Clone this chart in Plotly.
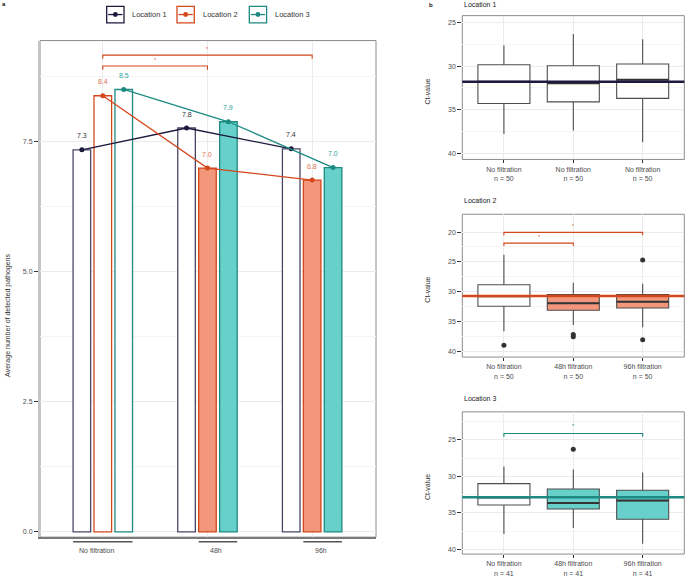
import plotly.graph_objects as go

W, H = 685, 577
FONT = "Liberation Sans, Arial, sans-serif"

# ---- data ----
locations = ["Location 1", "Location 2", "Location 3"]
periods = ["No filtration", "48h", "96h"]

# panel a: average number of detected pathogens
avg_loc1 = [7.34, 7.76, 7.36]
avg_loc2 = [8.38, 6.99, 6.76]
avg_loc3 = [8.50, 7.88, 7.00]

# treatment of each bar / box
treat_loc1 = ["No filtration", "No filtration", "No filtration"]
treat_loc2 = ["No filtration", "48h filtration", "96h filtration"]
treat_loc3 = ["No filtration", "48h filtration", "96h filtration"]
n_loc = [50, 50, 41]

# panel b: Ct-value box statistics
low_loc1 = [27.63, 26.30, 26.90]
q1_loc1 = [29.84, 29.95, 29.76]
med_loc1 = [31.80, 31.98, 31.56]
q3_loc1 = [34.30, 34.10, 33.70]
high_loc1 = [37.81, 37.40, 38.73]

low_loc2 = [23.80, 28.50, 28.70]
q1_loc2 = [28.84, 30.50, 30.50]
med_loc2 = [30.80, 31.96, 31.70]
q3_loc2 = [32.47, 33.14, 32.75]
high_loc2 = [36.66, 35.60, 36.00]

low_loc3 = [28.64, 29.05, 29.46]
q1_loc3 = [31.00, 31.74, 31.90]
med_loc3 = [32.90, 33.65, 33.32]
q3_loc3 = [33.92, 34.47, 35.87]
high_loc3 = [37.88, 37.06, 39.24]

out_x_loc2 = [1, 2, 2, 3, 3]
out_y_loc2 = [39.0, 37.23, 37.6, 24.7, 38.1]
out_x_loc3 = [2]
out_y_loc3 = [26.28]

ref_ct = [31.78, 30.75, 32.87]

# significance brackets (start, end, height)
sig_a = [(0, 2, 9.16), (0, 1, 8.95)]
sig_b2 = [(1, 3, 20.05), (1, 2, 21.85)]
sig_b3 = [(1, 3, 24.14)]

# ---- styles ----
line_col = ["#1b1a3e", "#d4471b", "#1d8a82"]
out_col = ["#4a4766", "#d4471b", "#1d8a82"]
fill_col = ["#ffffff", "#f2977b", "#67d0cb"]
lab_col = ["#333333", "#e0714f", "#2aa59b"]
GRID = "#ebebeb"
MINOR = "#f4f4f4"


def px(x):
    return x / W


def py(y):
    return 1 - y / H


def label(x, y, text, size=7, color="#333333", xanchor="center", **kw):
    return dict(x=x, y=y, text=text, showarrow=False, xanchor=xanchor, yanchor="middle",
                font=dict(size=size, color=color), **kw)


fig = go.Figure()
shapes = []
ann = []

# ---- panel a ----
avgs = [avg_loc1, avg_loc2, avg_loc3]
treats = [treat_loc1, treat_loc2, treat_loc3]
offsets = [-0.2, 0.0, 0.2]
for k, loc in enumerate(locations):
    xs = [i + offsets[k] for i in range(len(periods))]
    fills = [fill_col[k] if t != "No filtration" else "#ffffff" for t in treats[k]]
    fig.add_trace(go.Bar(
        x=xs, y=avgs[k], width=0.168, marker=dict(color=fills, line=dict(color=out_col[k], width=1.3)),
        showlegend=False, xaxis="x", yaxis="y", hoverinfo="skip"))
for k, loc in enumerate(locations):
    xs = [i + offsets[k] for i in range(len(periods))]
    fig.add_trace(go.Scatter(
        x=xs, y=avgs[k], mode="lines+markers", line=dict(color=line_col[k], width=1.3),
        marker=dict(color=line_col[k], size=5), showlegend=False, xaxis="x", yaxis="y"))
    for xv, yv in zip(xs, avgs[k]):
        ann.append(label(xv, yv, f"{yv:.1f}", color=lab_col[k], xref="x", yref="y", yshift=14))

for a0, a1, h in sig_a:
    shapes.append(dict(type="path", xref="x", yref="y",
                       path=f"M{a0},{h - 0.07} L{a0},{h} L{a1},{h} L{a1},{h - 0.07}",
                       line=dict(color=line_col[1], width=1.1)))
    ann.append(label((a0 + a1) / 2, h + 0.12, "*", size=5, color=line_col[1], xref="x", yref="y"))

# grouping lines under the x axis
groups = [(-0.284, 0.284), (0.916, 1.284), (1.916, 2.284)]
lab_shift = [-0.06, -0.02, -0.02]
for (g0, g1), name, s in zip(groups, periods, lab_shift):
    shapes.append(dict(type="line", xref="x", yref="paper", x0=g0, x1=g1, y0=py(543.7), y1=py(543.7),
                       line=dict(color="#555555", width=1.5)))
    ann.append(label((g0 + g1) / 2 + s, py(552), name, color="#4d4d4d", xref="x", yref="paper"))

shapes.append(dict(type="rect", xref="x domain", yref="y domain", x0=0, x1=1, y0=0, y1=1,
                   line=dict(color="#8c8c8c", width=1), layer="below"))

ann.append(label(px(8), py(317), "Average number of detected pathogens", xref="paper", yref="paper",
                 textangle=-90))
ann.append(label(px(4), py(4), "<b>a</b>", size=6, color="#111111", xref="paper", yref="paper"))

# manual legend
legend_x = [106.7, 177.0, 249.3]
for k, loc in enumerate(locations):
    x0 = legend_x[k]
    shapes.append(dict(type="rect", xref="paper", yref="paper", x0=px(x0), x1=px(x0 + 17.3),
                       y0=py(23), y1=py(6.3), line=dict(color=out_col[k] if k else line_col[0], width=1.3)))
    shapes.append(dict(type="line", xref="paper", yref="paper", x0=px(x0 + 1.5), x1=px(x0 + 15.8),
                       y0=py(14.6), y1=py(14.6), line=dict(color=line_col[k], width=1.3)))
    shapes.append(dict(type="circle", xref="paper", yref="paper", x0=px(x0 + 6.2), x1=px(x0 + 11.1),
                       y0=py(17.1), y1=py(12.1), fillcolor=line_col[k], line=dict(width=0)))
    ann.append(label(px(x0 + 23.5), py(14.6), loc, size=7.5, xanchor="left", xref="paper", yref="paper"))

# ---- panel b ----
stats = [
    (low_loc1, q1_loc1, med_loc1, q3_loc1, high_loc1),
    (low_loc2, q1_loc2, med_loc2, q3_loc2, high_loc2),
    (low_loc3, q1_loc3, med_loc3, q3_loc3, high_loc3),
]
outliers = [([], []), (out_x_loc2, out_y_loc2), (out_x_loc3, out_y_loc3)]
sigs = [[], sig_b2, sig_b3]
sig_drop = [0, 0.5, 0.46]
b_dom = [(160, 15.7), (358.3, 215), (556, 413.3)]
b_rng = [(40.72, 24.2), (41.0, 17.0), (40.64, 21.18)]
b_ticks = [[25, 30, 35, 40], [20, 25, 30, 35, 40], [25, 30, 35, 40]]
b_minor = [[27.5, 32.5, 37.5], [22.5, 27.5, 32.5, 37.5], [22.5, 27.5, 32.5, 37.5]]
title_y = [5, 201, 400]

for k, loc in enumerate(locations):
    ax = str(k + 2)
    low, q1, med, q3, high = stats[k]
    for i in range(3):
        pos = i + 1
        filled = treats[k][i] != "No filtration"
        fig.add_trace(go.Box(
            x=[pos], lowerfence=[low[i]], q1=[q1[i]], median=[med[i]], q3=[q3[i]], upperfence=[high[i]],
            width=0.75, whiskerwidth=0, fillcolor=fill_col[k] if filled else "#ffffff",
            line=dict(color="#4d4d4d", width=1.1), boxpoints=False, showlegend=False,
            xaxis="x" + ax, yaxis="y" + ax))
        shapes.append(dict(type="line", xref="x" + ax, yref="y" + ax, x0=pos - 0.375, x1=pos + 0.375,
                           y0=med[i], y1=med[i], line=dict(color="#333333", width=2)))
    ox, oy = outliers[k]
    if ox:
        fig.add_trace(go.Scatter(x=ox, y=oy, mode="markers", marker=dict(color="#333333", size=5),
                                 showlegend=False, xaxis="x" + ax, yaxis="y" + ax))
    shapes.append(dict(type="line", xref="x" + ax + " domain", yref="y" + ax, x0=0, x1=1,
                       y0=ref_ct[k], y1=ref_ct[k], line=dict(color=line_col[k], width=2.5)))
    for a0, a1, h in sigs[k]:
        d = sig_drop[k]
        shapes.append(dict(type="path", xref="x" + ax, yref="y" + ax,
                           path=f"M{a0},{h + d} L{a0},{h} L{a1},{h} L{a1},{h + d}",
                           line=dict(color=line_col[k], width=1.1)))
        ann.append(label((a0 + a1) / 2, h - d * 2.2, "*", size=5, color=line_col[k],
                         xref="x" + ax, yref="y" + ax))
    shapes.append(dict(type="rect", xref="x" + ax + " domain", yref="y" + ax + " domain",
                       x0=0, x1=1, y0=0, y1=1, line=dict(color="#8c8c8c", width=1), layer="below"))
    ann.append(label(px(462), py(title_y[k]), loc, color="#222222", xanchor="left",
                     xref="paper", yref="paper"))
    bot, top = b_dom[k]
    ann.append(label(px(428), py((bot + top) / 2 + 4), "Ct-value", xref="paper", yref="paper",
                     textangle=-90))

    ticktext = [f"{t}<br>n = {n_loc[k]}" for t in treats[k]]
    fig.update_layout(**{
        "xaxis" + ax: dict(domain=[px(462.3), px(684.3)], range=[0.4, 3.6], anchor="y" + ax,
                           tickvals=[1, 2, 3], ticktext=ticktext, ticks="outside", ticklen=3,
                           tickcolor="#333333", tickfont=dict(size=7, color="#4d4d4d"),
                           showgrid=True, gridcolor=GRID, zeroline=False, showline=False),
        "yaxis" + ax: dict(domain=[py(bot), py(top)], range=list(b_rng[k]), anchor="x" + ax,
                           tickvals=b_ticks[k], ticks="outside", ticklen=4, tickcolor="#333333",
                           tickfont=dict(size=7, color="#4d4d4d"), showgrid=True, gridcolor=GRID,
                           minor=dict(tickvals=b_minor[k], showgrid=True, gridcolor=MINOR, ticklen=0),
                           zeroline=False, showline=False),
    })

ann.append(label(px(431), py(5), "<b>b</b>", size=6, color="#111111", xref="paper", yref="paper"))

fig.update_layout(
    width=W, height=H,
    margin=dict(l=0, r=0, t=0, b=0),
    paper_bgcolor="white", plot_bgcolor="white",
    font=dict(family=FONT, size=7, color="#333333"),
    barmode="overlay",
    showlegend=False,
    xaxis=dict(domain=[px(40), px(376)], range=[-0.6, 2.61], tickvals=[0, 1, 2], showticklabels=False,
               ticks="", showgrid=True, gridcolor=GRID, zeroline=False,
               showline=True, linecolor="#7a7a7a", linewidth=1.5),
    yaxis=dict(domain=[py(539), py(40.7)], range=[-0.1, 9.44], tickvals=[0, 2.5, 5, 7.5],
               ticktext=["0.0", "2.5", "5.0", "7.5"], ticks="outside", ticklen=4, tickcolor="#333333",
               tickfont=dict(size=7, color="#4d4d4d"), showgrid=True, gridcolor=GRID,
               minor=dict(tickvals=[1.25, 3.75, 6.25, 8.75], showgrid=True, gridcolor=MINOR, ticklen=0),
               zeroline=False, showline=True, linecolor="#c4c4c4", linewidth=2),
    shapes=shapes,
    annotations=ann,
)

# the page body has a default 8px margin; drop it so the figure sits at the top-left corner
fig.write_html("out.html", config={"displayModeBar": False},
               post_script="document.body.style.margin='0';")
